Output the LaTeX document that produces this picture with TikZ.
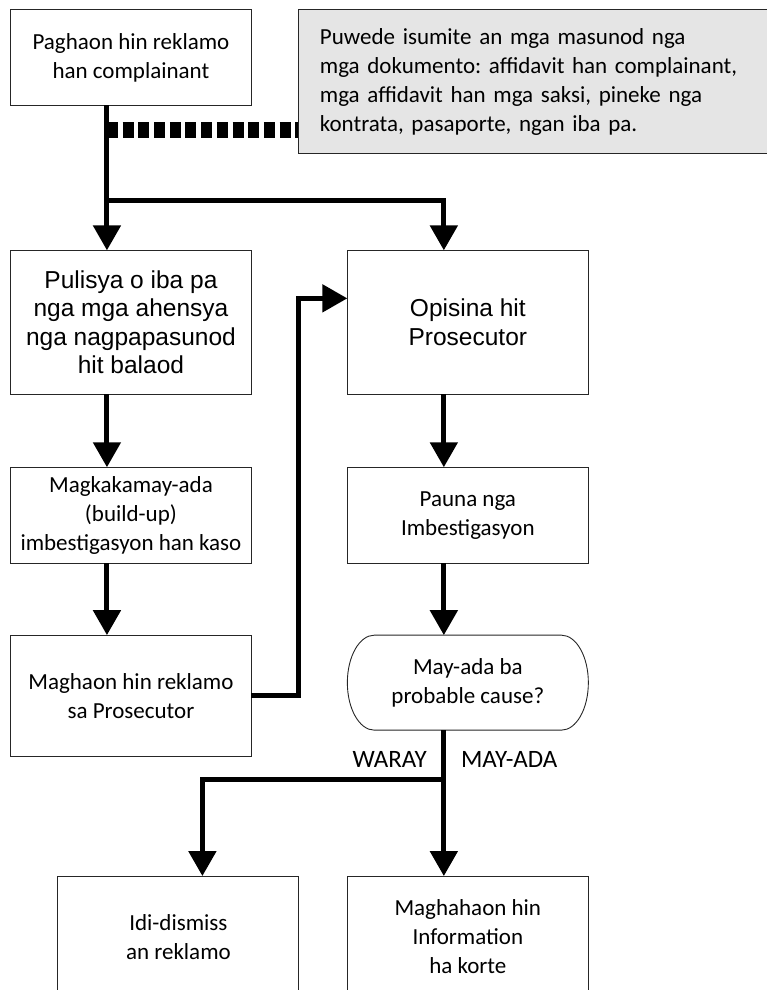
\documentclass[tikz,border=0pt]{standalone}
\usepackage{fontspec}
\setmainfont{Carlito}
\newfontfamily\widefont{Liberation Sans}
\usepackage{tikz}
\usetikzlibrary{arrows.meta,matrix,positioning,scopes}
\frenchspacing
\tikzset{>={Triangle[length=25pt,width=27pt]}}
\tikzstyle{flow}=[draw=black!85, line width=0.9pt, inner sep=0pt,
   minimum width=241pt, align=center, anchor=north,
   font=\fontsize{23}{29}\selectfont]
\tikzstyle{wide}=[font=\widefont\fontsize{24.5}{28.5}\selectfont]
\tikzstyle{note}=[flow, fill=black!10, align=left, inner xsep=21pt,
   text width=430pt, minimum width=472pt, minimum height=144pt]
\tikzstyle{link}=[line width=5pt]
\tikzstyle{docline}=[line width=16pt, dash pattern=on 11pt off 4.7pt]
\tikzstyle{tag}=[inner sep=0pt, font=\fontsize{25}{30}\selectfont]

\begin{document}
\begin{tikzpicture}
  \useasboundingbox (0,0) rectangle (766pt,-990pt);
  \matrix (m) [column sep=95pt, inner sep=0pt, outer sep=0pt, anchor=north west] at (10pt,-9pt)
    {
      \node[flow, minimum height=96pt] (file) {Paghaon hin reklamo\\han complainant}; & \\[144pt]
      \node[flow, wide, minimum height=144pt] (police) {Pulisya o iba pa\\nga mga ahensya\\nga nagpapasunod\\hit balaod}; &
      \node[flow, wide, minimum height=144pt] (office) {Opisina hit\\Prosecutor}; \\[72pt]
      \node[flow, minimum height=96pt] (buildup) {Magkakamay-ada\\(build-up)\\imbestigasyon han kaso}; &
      \node[flow, minimum height=96pt] (prelim) {Pauna nga\\Imbestigasyon}; \\[71pt]
      \node[flow, minimum height=121pt] (refer) {Maghaon hin reklamo\\sa Prosecutor}; &
      \node[flow, draw=none, minimum height=95pt] (cause) {May-ada ba\\probable cause?}; \\[119pt]
        &
      \node[flow, minimum height=122pt] (info) {Maghahaon hin\\Information\\ha korte}; \\
    };
  \node[note, right=47pt of file.north east, anchor=north west] (docs)
    {Puwede isumite an mga masunod nga\\mga dokumento: affidavit han complainant,\\mga affidavit han mga saksi, pineke nga\\kontrata, pasaporte, ngan iba pa.};
  \node[flow, minimum height=122pt, left=48pt of info.north west, anchor=north east] (dismiss) {Idi-dismiss\\an reklamo};
  % decision outline
  \draw[draw=black!85, line width=0.9pt] ([xshift=27pt]cause.north west) -- ([xshift=-27pt]cause.north east)
    arc[start angle=90, end angle=-90, x radius=27pt, y radius=47.5pt]
    -- ([xshift=27pt]cause.south west)
    arc[start angle=270, end angle=90, x radius=27pt, y radius=47.5pt] -- cycle;

  \coordinate (split) at ([xshift=-24pt,yshift=-95pt]file.south);
  \coordinate (docpin) at ([yshift=-48pt]docs.west);
  \coordinate (verdict) at ([xshift=-24pt,yshift=-49pt]cause.south);
  {
    \draw[docline] (split |- docpin) -- (docpin);
    \draw[link,->] ([xshift=-24pt]file.south) -- ([xshift=-24pt]police.north);
    \draw[link,->] (split) -| ([xshift=-24pt]office.north);
  }
  {
    \draw[link,->] ([xshift=-24pt]police.south) -- ([xshift=-24pt]buildup.north);
    \draw[link,->] ([xshift=-24pt]buildup.south) -- ([xshift=-24pt]refer.north);
    \draw[link,->] (refer.east) -- ++(47pt,0) |- ([yshift=24pt]office.west);
  }
  {
    \draw[link,->] ([xshift=-24pt]office.south) -- ([xshift=-24pt]prelim.north);
    \draw[link,->] ([xshift=-24pt]prelim.south) -- ([xshift=-24pt]cause.north);
    \draw[link] ([xshift=-24pt]cause.south) -- (verdict);
    \draw[link,->] (verdict) -- ([xshift=-24pt]info.north);
    \draw[link,->] (verdict) -| ([xshift=24pt]dismiss.north);
  }
  \node[tag, anchor=east] (waray) at ([xshift=-17pt,yshift=20pt]verdict) {WARAY};
  \node[tag, anchor=west] (mayada) at ([xshift=17pt,yshift=20pt]verdict) {MAY-ADA};
\end{tikzpicture}
\end{document}
